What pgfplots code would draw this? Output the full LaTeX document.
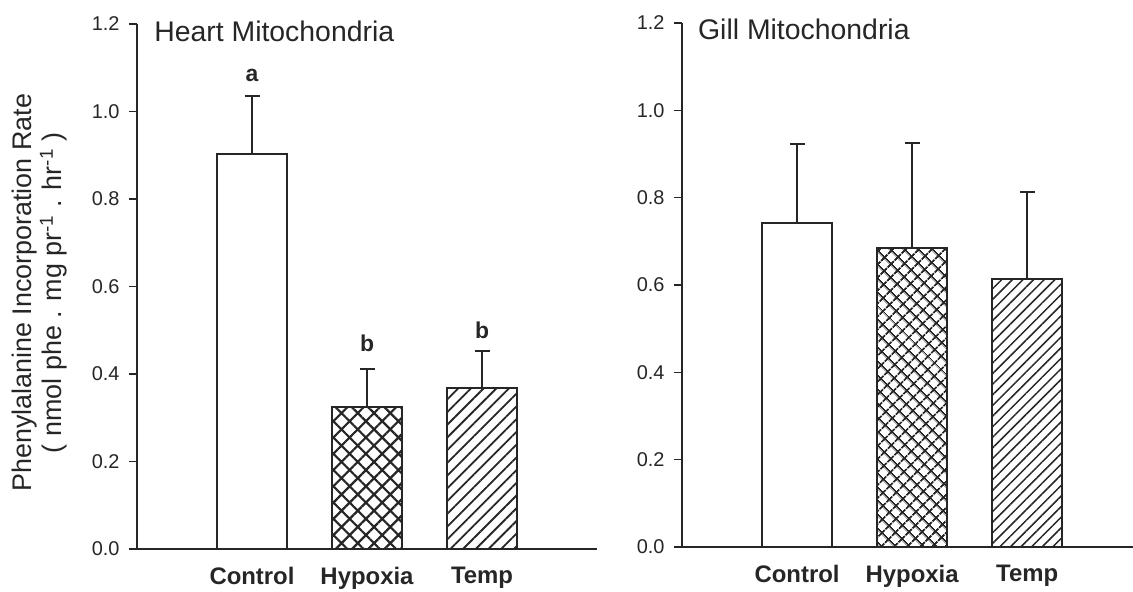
\documentclass[border=0pt]{standalone}
\usepackage{fontspec}
\setmainfont{Liberation Sans}
\usepackage{pgfplots}
\pgfplotsset{compat=1.18}
\usetikzlibrary{patterns.meta}
\definecolor{ink}{HTML}{262626}

\pgfplotsset{
  panel/.style={
    scale only axis,
    axis x line=bottom, axis y line=left,
    axis line style={-, line width=2bp, draw=ink},
    ymin=0, ymax=1.2, xmin=0,
    ytick={0,0.2,0.4,0.6,0.8,1.0,1.2},
    yticklabel style={/pgf/number format/fixed, /pgf/number format/fixed zerofill,
      /pgf/number format/precision=1, /pgf/number format/assume math mode=true,
      font=\fontsize{20}{22}\selectfont, text=ink, xshift=-6bp},
    y tick style={line width=1.5bp, draw=ink},
    tick align=outside, major tick length=8bp,
    xtick={1,2,3}, xticklabels={Control,Hypoxia,Temp},
    x tick style={draw=none},
    xticklabel style={font=\fontsize{24}{26}\selectfont\bfseries, text=ink, yshift=-7bp},
    ybar, bar width=0.61,
    clip=false,
  },
  mybar/.style={draw=ink, line width=2bp, bar shift=0pt,
    error bars/y dir=plus, error bars/y explicit,
    error bars/error bar style={line width=2bp, draw=ink},
    error bars/error mark options={rotate=90, line width=2bp, draw=ink, mark size=7.5bp}},
}

\begin{document}
\begin{tikzpicture}
\path[use as bounding box] (0,0) rectangle (1133bp,592bp);

% ---------------- Heart ----------------
\begin{axis}[panel,
  at={(137bp,43bp)}, anchor=south west,
  width=460bp, height=525bp, xmax=4,
  ylabel={Phenylalanine Incorporation Rate\\( nmol phe . mg pr\textsuperscript{-1} . hr\textsuperscript{-1} )},
  every axis y label/.style={at={(axis description cs:-0.211,0.488)}, rotate=90, anchor=center,
     align=center, font=\fontsize{27}{30}\selectfont, text=ink},
]
\addplot[mybar, fill=white] coordinates {(1,0.903) +- (0,0.132)};
\addplot[mybar, pattern={Hatch[angle=45,distance=11.5bp,line width=2.2bp]}, pattern color=ink] coordinates {(2,0.325) +- (0,0.086)};
\addplot[mybar, pattern={Lines[angle=45,distance=9bp,line width=1.8bp]}, pattern color=ink] coordinates {(3,0.368) +- (0,0.085)};
\node[anchor=base west, font=\fontsize{28.5}{30}\selectfont, text=ink] at (axis description cs:0.03,0.966) {Heart Mitochondria};
\node[font=\fontsize{23}{25}\selectfont\bfseries, text=ink] at (axis cs:1,1.083) {a};
\node[font=\fontsize{23}{25}\selectfont\bfseries, text=ink] at (axis cs:2,0.471) {b};
\node[font=\fontsize{23}{25}\selectfont\bfseries, text=ink] at (axis cs:3,0.500) {b};
\end{axis}

% ---------------- Gill ----------------
\begin{axis}[panel,
  at={(682bp,45bp)}, anchor=south west,
  width=451bp, height=524bp, xmax=3.92,
]
\addplot[mybar, fill=white] coordinates {(1,0.742) +- (0,0.181)};
\addplot[mybar, pattern={Hatch[angle=45,distance=9.5bp,line width=1.9bp]}, pattern color=ink] coordinates {(2,0.685) +- (0,0.240)};
\addplot[mybar, pattern={Lines[angle=45,distance=7.5bp,line width=1.5bp]}, pattern color=ink] coordinates {(3,0.614) +- (0,0.199)};
\node[anchor=base west, font=\fontsize{28.5}{30}\selectfont, text=ink] at (axis description cs:0.028,0.968) {Gill Mitochondria};
\end{axis}
\end{tikzpicture}
\end{document}
